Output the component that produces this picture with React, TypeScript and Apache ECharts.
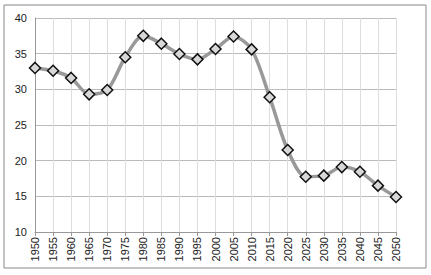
import React, { useEffect, useRef } from "react";
import * as echarts from "echarts";

const years = ["1950","1955","1960","1965","1970","1975","1980","1985","1990","1995","2000","2005","2010","2015","2020","2025","2030","2035","2040","2045","2050"];
const values = [33.0,32.6,31.6,29.3,29.9,34.5,37.5,36.4,34.95,34.2,35.65,37.4,35.6,28.9,21.5,17.75,17.9,19.1,18.45,16.5,14.9];
const yTicks = { min: 10, max: 40, interval: 5 };

export default function App() {
  const ref = useRef<HTMLDivElement>(null);
  useEffect(() => {
    const chart = echarts.init(ref.current!, null, { renderer: "svg" });
    chart.setOption({
      animation: false,
      backgroundColor: "#fff",
      graphic: [
        { type: "rect", shape: { x: 4, y: 5, width: 422, height: 263 }, style: { fill: "none", stroke: "#888", lineWidth: 1 } },
      ],
      grid: { left: 35, right: 35, top: 18, bottom: 43 },
      xAxis: {
        type: "category",
        data: years,
        boundaryGap: false,
        axisLine: { show: true, lineStyle: { color: "#999", width: 1 } },
        axisTick: { show: true, length: 4, lineStyle: { color: "#999" } },
        axisLabel: { rotate: 90, fontFamily: "Liberation Sans", fontSize: 11, color: "#222", margin: 5, interval: 0 },
        splitLine: { show: true, lineStyle: { color: "#ddd", width: 1 } },
      },
      yAxis: {
        type: "value",
        min: yTicks.min,
        max: yTicks.max,
        interval: yTicks.interval,
        axisLine: { show: true, lineStyle: { color: "#999", width: 1 } },
        axisTick: { show: false },
        axisLabel: { fontFamily: "Liberation Sans", fontSize: 11, color: "#222", margin: 8 },
        splitLine: { show: true, lineStyle: { color: "#bbb", width: 1 } },
      },
      series: [
        {
          type: "line",
          data: values,
          smooth: 0.3,
          symbol: "diamond",
          symbolSize: 11,
          lineStyle: { color: "#999", width: 3.5 },
          itemStyle: { color: "#d8d8d8", borderColor: "#111", borderWidth: 1.5 },
        },
      ],
    });
    return () => chart.dispose();
  }, []);
  return <div ref={ref} style={{ width: 431, height: 275, position: "absolute", left: 0, top: 0 }} />;
}
